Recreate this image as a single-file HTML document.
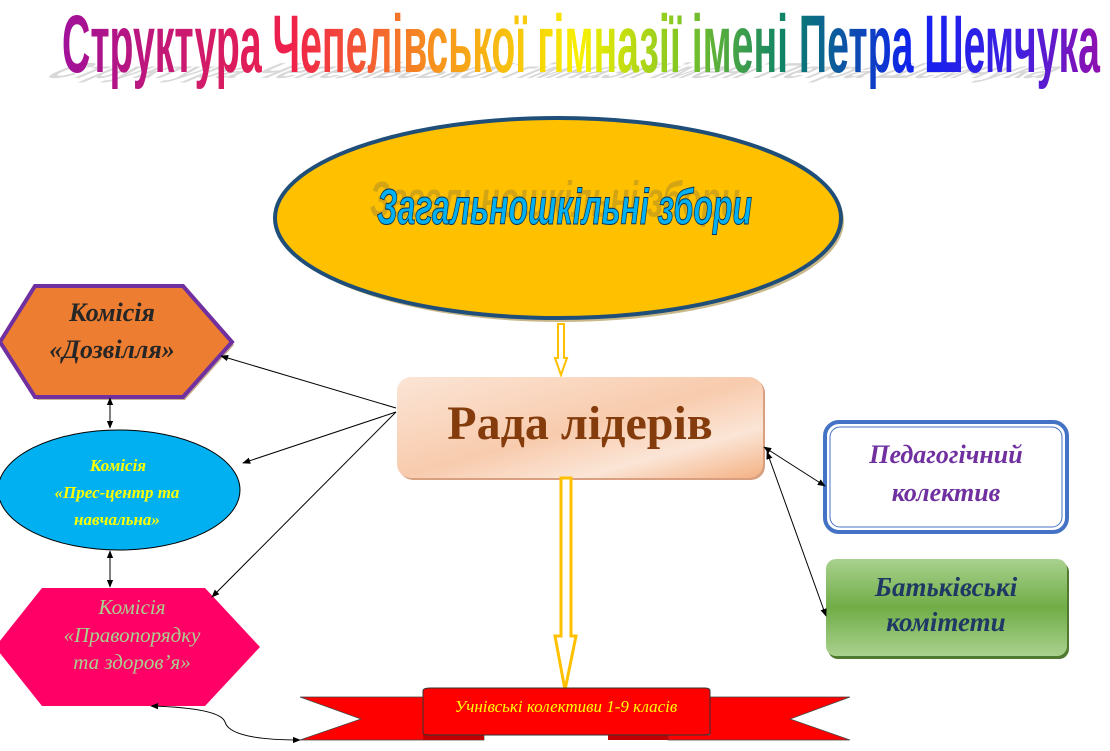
<!DOCTYPE html>
<html><head><meta charset="utf-8">
<style>
html,body{margin:0;padding:0;background:#fff;}
svg{display:block;}
</style></head>
<body>
<svg width="1110" height="751" viewBox="0 0 1110 751" xmlns="http://www.w3.org/2000/svg">
<defs>
<linearGradient id="rb" x1="62" y1="0" x2="1100" y2="0" gradientUnits="userSpaceOnUse">
<stop offset="0" stop-color="#A0119A"/>
<stop offset="0.22" stop-color="#F0204A"/>
<stop offset="0.36" stop-color="#F7931E"/>
<stop offset="0.5" stop-color="#F7F000"/>
<stop offset="0.6" stop-color="#7DC526"/>
<stop offset="0.7" stop-color="#0A7F6A"/>
<stop offset="0.82" stop-color="#1020F0"/>
<stop offset="0.92" stop-color="#4020E0"/>
<stop offset="1" stop-color="#9010B0"/>
</linearGradient>
<linearGradient id="peach" x1="0" y1="0" x2="1" y2="1">
<stop offset="0" stop-color="#FBE5D6"/>
<stop offset="0.5" stop-color="#F8CBAD"/>
<stop offset="0.75" stop-color="#FBE5D6"/>
<stop offset="1" stop-color="#F4B183"/>
</linearGradient>
<linearGradient id="green" x1="0" y1="0" x2="0" y2="1">
<stop offset="0" stop-color="#A9D18E"/>
<stop offset="0.5" stop-color="#70AD47"/>
<stop offset="1" stop-color="#A9D18E"/>
</linearGradient>
<marker id="ah" viewBox="0 0 10 10" refX="9" refY="5" markerWidth="8" markerHeight="8" orient="auto-start-reverse">
<path d="M0,1 L10,5 L0,9 z" fill="#000"/>
</marker>
</defs>

<!-- title shadow -->
<g transform="translate(40,78) scale(1,0.35) skewX(-40)">
<text x="0" y="0" font-family="Liberation Sans Narrow, Liberation Sans, sans-serif" font-weight="bold" font-size="62" textLength="1000" lengthAdjust="spacingAndGlyphs" fill="#aaa" opacity="0.45">Структура Чепелівської гімназії імені Петра Шемчука</text>
</g>
<!-- title -->
<g transform="translate(0,72) scale(1,1.32)">
<text x="62" y="0" font-family="Liberation Sans Narrow, Liberation Sans, sans-serif" font-weight="bold" font-size="62" textLength="1038" lengthAdjust="spacingAndGlyphs" fill="url(#rb)">Структура Чепелівської гімназії імені Петра Шемчука</text>
</g>

<!-- top ellipse -->
<ellipse cx="561" cy="221" rx="283" ry="101" fill="#C9B98A"/>
<ellipse cx="558" cy="218" rx="283" ry="100" fill="#FFC000" stroke="#1F4E79" stroke-width="4"/>
<g transform="translate(0,224) scale(1,1.25)">
<text x="370" y="-6" font-family="Liberation Sans Narrow, Liberation Sans, sans-serif" font-weight="bold" font-style="italic" font-size="40" textLength="370" lengthAdjust="spacingAndGlyphs" fill="#A08530" opacity="0.45">Загальношкільні збори</text>
<text x="377" y="0" font-family="Liberation Sans Narrow, Liberation Sans, sans-serif" font-weight="bold" font-style="italic" font-size="40" textLength="375" lengthAdjust="spacingAndGlyphs" fill="#00B0F0" stroke="#0A3050" stroke-width="0.8">Загальношкільні збори</text>
</g>

<!-- small arrow -->
<path d="M558,324 L564,324 L564,358 L567,358 L561,375 L555,358 L558,358 Z" fill="#fff" stroke="#FFC000" stroke-width="2"/>

<!-- Rada -->
<rect x="399" y="379" width="366" height="101" rx="14" fill="#D8A080"/>
<rect x="397" y="377" width="366" height="101" rx="14" fill="url(#peach)"/>
<text x="580" y="439" text-anchor="middle" font-family="Liberation Serif, serif" font-weight="bold" font-size="48" fill="#843C0C">Рада лідерів</text>

<!-- big arrow -->
<path d="M561,478 L571,478 L571,636 L576,636 L565,690 L555,636 L561,636 Z" fill="#fff" stroke="#FFC000" stroke-width="3"/>

<!-- hex 1 -->
<polygon points="2,345 37,289 185,289 234,345 185,400 37,400" fill="#C9B090"/>
<polygon points="0,342 35,286 183,286 232,342 183,397 35,397" fill="#ED7D31" stroke="#7030A0" stroke-width="4"/>
<text x="112" y="321" text-anchor="middle" font-family="Liberation Serif, serif" font-weight="bold" font-style="italic" font-size="26" fill="#262626">Комісія</text>
<text x="112" y="358" text-anchor="middle" font-family="Liberation Serif, serif" font-weight="bold" font-style="italic" font-size="26" fill="#262626">«Дозвілля»</text>

<!-- blue ellipse -->
<ellipse cx="119" cy="490" rx="121" ry="60" fill="#00B0F0" stroke="#000" stroke-width="1"/>
<text x="118" y="471" text-anchor="middle" font-family="Liberation Serif, serif" font-weight="bold" font-style="italic" font-size="17" fill="#FFFF00">Комісія</text>
<text x="117" y="498" text-anchor="middle" font-family="Liberation Serif, serif" font-weight="bold" font-style="italic" font-size="17" fill="#FFFF00">«Прес-центр та</text>
<text x="117" y="525" text-anchor="middle" font-family="Liberation Serif, serif" font-weight="bold" font-style="italic" font-size="17" fill="#FFFF00">навчальна»</text>

<!-- pink hex -->
<polygon points="-5,647 42,588 205,588 260,647 205,706 42,706" fill="#FF0066"/>
<text x="132" y="614" text-anchor="middle" font-family="Liberation Serif, serif" font-style="italic" font-size="21" fill="#A9D18E">Комісія</text>
<text x="132" y="642" text-anchor="middle" font-family="Liberation Serif, serif" font-style="italic" font-size="21" fill="#A9D18E">«Правопорядку</text>
<text x="132" y="669" text-anchor="middle" font-family="Liberation Serif, serif" font-style="italic" font-size="21" fill="#A9D18E">та здоров’я»</text>

<!-- pedagog -->
<rect x="825" y="422" width="242" height="110" rx="14" fill="#fff" stroke="#4472C4" stroke-width="4"/>
<rect x="830" y="427" width="232" height="100" rx="10" fill="none" stroke="#4472C4" stroke-width="1"/>
<text x="946" y="463" text-anchor="middle" font-family="Liberation Serif, serif" font-weight="bold" font-style="italic" font-size="26" fill="#7030A0">Педагогічний</text>
<text x="946" y="501" text-anchor="middle" font-family="Liberation Serif, serif" font-weight="bold" font-style="italic" font-size="26" fill="#7030A0">колектив</text>

<!-- batk -->
<rect x="828" y="562" width="241" height="97" rx="10" fill="#507A30"/>
<rect x="826" y="559" width="241" height="97" rx="10" fill="url(#green)"/>
<text x="946" y="596" text-anchor="middle" font-family="Liberation Serif, serif" font-weight="bold" font-style="italic" font-size="27" fill="#1F3864">Батьківські</text>
<text x="946" y="631" text-anchor="middle" font-family="Liberation Serif, serif" font-weight="bold" font-style="italic" font-size="27" fill="#1F3864">комітети</text>

<!-- ribbon -->
<polygon points="300,697 440,697 440,735 484,735 484,740 300,740 361,719" fill="#FF0000" stroke="#444" stroke-width="0.7"/>
<polygon points="850,697 710,697 710,735 668,735 668,740 850,740 790,719" fill="#FF0000" stroke="#444" stroke-width="0.7"/>
<path d="M423,730 L484,730 L484,740 L423,740 Z" fill="#C00000"/>
<path d="M608,730 L668,730 L668,740 L608,740 Z" fill="#C00000"/>
<path d="M423,691 Q423,688 430,688 L705,688 Q710,688 710,691 L710,733 Q710,735 700,735 L430,735 Q423,735 423,733 Z" fill="#FF0000" stroke="#333" stroke-width="1"/>
<text x="566" y="712" text-anchor="middle" font-family="Liberation Serif, serif" font-style="italic" font-size="17" fill="#FFFF00">Учнівські колективи 1-9 класів</text>

<!-- connectors -->
<g stroke="#000" stroke-width="1" fill="none">
<line x1="396" y1="408" x2="221" y2="356" marker-end="url(#ah)"/>
<line x1="396" y1="412" x2="243" y2="463" marker-end="url(#ah)"/>
<line x1="396" y1="412" x2="212" y2="597" marker-end="url(#ah)"/>
<line x1="110" y1="398" x2="110" y2="428" marker-start="url(#ah)" marker-end="url(#ah)"/>
<line x1="110" y1="551" x2="110" y2="587" marker-start="url(#ah)" marker-end="url(#ah)"/>
<line x1="764" y1="447" x2="825" y2="486" marker-start="url(#ah)" marker-end="url(#ah)"/>
<line x1="767" y1="452" x2="826" y2="616" marker-start="url(#ah)" marker-end="url(#ah)"/>
<path d="M151,706 Q220,708 225,722 Q230,740 300,740" marker-start="url(#ah)" marker-end="url(#ah)"/>
</g>
</svg>
</body></html>
